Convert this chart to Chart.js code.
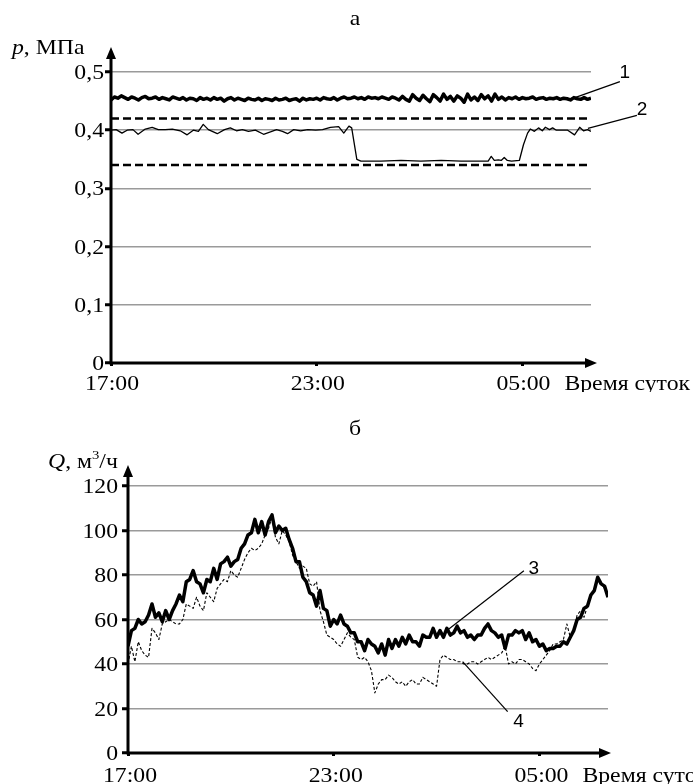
<!DOCTYPE html>
<html>
<head>
<meta charset="utf-8">
<script src="https://cdn.jsdelivr.net/npm/chart.js@4.4.0/dist/chart.umd.min.js"></script>
<style>
  html, body { margin: 0; padding: 0; background: #fff; }
  #wrap { position: relative; width: 693px; height: 784px; overflow: hidden; }
  canvas { position: absolute; left: 0; }
  #chartP { top: 0; }
  #chartQ { top: 392px; }
</style>
</head>
<body>
<div id="wrap">
  <canvas id="chartP" width="693" height="392"></canvas>
  <canvas id="chartQ" width="693" height="392"></canvas>
</div>
<script>
// time axis: hours after 17:00
const timeTicks = [0, 6, 12];
const timeLabels = ['17:00', '23:00', '05:00'];
const timeUnit = 'Время суток';
const stepHours = 0.1;

// (а) pressure, MPa
const pressureTicks = [0, 0.1, 0.2, 0.3, 0.4, 0.5];

// curve 1 - sampled every 0.1 h
const pressure1 = [
  0.452, 0.457, 0.455, 0.459, 0.456, 0.453, 0.457, 0.455, 0.452, 0.456,
  0.458, 0.454, 0.455, 0.457, 0.453, 0.456, 0.454, 0.452, 0.457, 0.455,
  0.453, 0.456, 0.452, 0.455, 0.454, 0.451, 0.456, 0.453, 0.455, 0.452,
  0.456, 0.453, 0.455, 0.450, 0.454, 0.456, 0.452, 0.455, 0.453, 0.451,
  0.455, 0.453, 0.452, 0.455, 0.451, 0.454, 0.453, 0.451, 0.455, 0.452,
  0.453, 0.455, 0.451, 0.453, 0.454, 0.450, 0.455, 0.452, 0.454, 0.453,
  0.455, 0.452, 0.456, 0.454, 0.453, 0.456, 0.452, 0.455, 0.457, 0.454,
  0.455, 0.457, 0.454, 0.456, 0.453, 0.457, 0.455, 0.456, 0.454, 0.457,
  0.455, 0.453, 0.457, 0.455, 0.452, 0.458, 0.453, 0.450, 0.461, 0.455,
  0.451, 0.460, 0.454, 0.449, 0.461, 0.456, 0.450, 0.462, 0.453, 0.458,
  0.450, 0.459, 0.455, 0.448, 0.462, 0.452, 0.457, 0.451, 0.461, 0.454,
  0.459, 0.450, 0.462, 0.453, 0.457, 0.452, 0.456, 0.454, 0.457, 0.453,
  0.456, 0.454, 0.455, 0.457, 0.453, 0.455, 0.456, 0.453, 0.455, 0.454,
  0.456, 0.453, 0.455, 0.454, 0.452, 0.456, 0.454, 0.453, 0.456, 0.453,
  0.455
];

// curve 2
const pressure2Hours = [
  0, 0.15, 0.32, 0.47, 0.64, 0.79, 1.0, 1.2, 1.38, 1.58, 1.79,
  2.02, 2.22, 2.4, 2.55, 2.69, 2.84, 3.1, 3.31, 3.48, 3.66, 3.83,
  4.01, 4.21, 4.45, 4.65, 4.83, 5.0, 5.15, 5.33, 5.53, 5.74, 5.97,
  6.17, 6.4, 6.64, 6.79, 6.94, 7.02, 7.17, 7.29, 7.87, 8.46, 9.04, 9.63,
  10.21, 10.8, 11.0, 11.09, 11.18, 11.3, 11.38, 11.47, 11.56, 11.68, 11.91,
  12.03, 12.15, 12.23, 12.35, 12.47, 12.58, 12.67, 12.79, 12.88, 12.99,
  13.32, 13.52, 13.67, 13.78, 13.9, 14.0
];
const pressure2 = [
  0.400, 0.401, 0.395, 0.400, 0.401, 0.393, 0.402, 0.405, 0.401, 0.401, 0.402,
  0.399, 0.392, 0.400, 0.398, 0.410, 0.401, 0.394, 0.401, 0.404, 0.399, 0.401,
  0.398, 0.400, 0.393, 0.397, 0.401, 0.398, 0.394, 0.401, 0.399, 0.401, 0.400,
  0.401, 0.405, 0.406, 0.395, 0.407, 0.404, 0.350, 0.347, 0.347, 0.348, 0.347, 0.348,
  0.347, 0.347, 0.347, 0.355, 0.348, 0.349, 0.348, 0.353, 0.348, 0.347, 0.348,
  0.375, 0.395, 0.402, 0.398, 0.404, 0.399, 0.405, 0.401, 0.404, 0.400,
  0.400, 0.392, 0.405, 0.399, 0.401, 0.398
];

// dashed limits
const limitHours = [0, 14];
const limitUpper = [0.42, 0.42];
const limitLower = [0.34, 0.34];

// (б) flow, m3/h
const flowTicks = [0, 20, 40, 60, 80, 100, 120];

// curve 3 - sampled every 0.1 h
const flow3 = [
  48, 55, 56, 60, 58, 59, 62, 67, 61, 63,
  59, 64, 60, 64, 67, 71, 68, 77, 78, 82,
  77, 76, 72, 78, 77, 83, 78, 85, 86, 88,
  84, 86, 87, 92, 94, 98, 99, 105, 99, 104,
  98, 104, 107, 99, 102, 100, 101, 96, 92, 86,
  86, 79, 77, 72, 71, 66, 73, 65, 64, 57,
  60, 58, 62, 58, 57, 54, 54, 50, 50, 46,
  51, 49, 48, 45, 49, 44, 51, 47, 51, 48,
  52, 49, 53, 50, 50, 48, 53, 52, 52, 56,
  52, 55, 52, 56, 53, 54, 57, 54, 55, 52,
  53, 51, 53, 53, 56, 58, 55, 54, 52, 53,
  47, 53, 53, 55, 54, 55, 51, 54, 50, 51,
  48, 49, 46, 47, 47, 48, 48, 50, 49, 52,
  55, 60, 61, 65, 66, 71, 73, 79, 76, 75,
  70
];

// curve 4 - sampled every 0.1 h
const flow4 = [
  40, 48, 41, 50, 46, 44, 43, 56, 54, 51,
  58, 59, 60, 59, 58, 58, 60, 67, 66, 65,
  70, 66, 64, 72, 70, 68, 74, 76, 78, 77,
  82, 80, 79, 83, 87, 90, 92, 91, 92, 94,
  98, 101, 106, 97, 94, 100, 98, 95, 89, 86,
  83, 84, 83, 76, 75, 77, 64, 59, 53, 52,
  51, 49, 48, 51, 54, 52, 51, 43, 42, 43,
  41, 37, 27, 31, 33, 33, 35, 34, 32, 31,
  32, 30, 32, 33, 31, 31, 34, 33, 32, 31,
  30, 42, 44, 43, 42, 42, 41, 41, 40, 40,
  41, 41, 40, 41, 42, 43, 42, 43, 44, 45,
  48, 40, 41, 40, 42, 42, 41, 40, 38, 37,
  40, 42, 44, 46, 49, 49, 50, 51, 58, 52,
  55, 62, 64, 61, 66, 70, 73, 78, 76, 74,
  72
];

const STRETCH = 1.13;
const SERIF = '"Liberation Serif", "Times New Roman", serif';
const FONT = '21px ' + SERIF;

const toSteps = vals => vals.map((v, i) => ({ x: i * stepHours, y: v }));
const toPairs = (hs, vals) => hs.map((h, i) => ({ x: h, y: vals[i] }));

function txt(ctx, text, x, y, align, font, stretch) {
  ctx.save();
  ctx.font = font;
  ctx.translate(x, y);
  ctx.scale(stretch || STRETCH, 1);
  ctx.textAlign = align;
  ctx.textBaseline = 'alphabetic';
  ctx.fillText(text, 0, 0);
  ctx.restore();
}

// draw a title made of several font runs
function parts(ctx, list, x, y) {
  list.forEach(p => {
    ctx.save();
    ctx.font = p.font;
    const w = ctx.measureText(p.t).width * STRETCH;
    ctx.restore();
    txt(ctx, p.t, x, y + (p.dy || 0), 'left', p.font);
    x += w;
  });
}

function decor(cfg) {
  return {
    id: 'decor',
    afterDraw(chart) {
      const ctx = chart.ctx, a = chart.chartArea;
      const xs = chart.scales.x, ys = chart.scales.y;
      ctx.save();
      ctx.fillStyle = '#000';
      ctx.strokeStyle = '#000';

      // axes with arrows
      const ty = a.top - cfg.arrowUp;
      const tx = a.right + cfg.arrowRight;
      ctx.lineWidth = 3;
      ctx.beginPath();
      ctx.moveTo(a.left, a.bottom + 1.5);
      ctx.lineTo(a.left, ty + 10);
      ctx.moveTo(a.left - 1.5, a.bottom);
      ctx.lineTo(tx - 10, a.bottom);
      ctx.stroke();
      ctx.beginPath();
      ctx.moveTo(a.left, ty);
      ctx.lineTo(a.left - 5, ty + 12);
      ctx.lineTo(a.left + 5, ty + 12);
      ctx.closePath();
      ctx.moveTo(tx, a.bottom);
      ctx.lineTo(tx - 12, a.bottom - 5);
      ctx.lineTo(tx - 12, a.bottom + 5);
      ctx.closePath();
      ctx.fill();

      // tick labels
      cfg.yTicks.forEach(v => {
        txt(ctx, cfg.yFmt(v), a.left - cfg.yGap, ys.getPixelForValue(v) + 7, 'right', FONT);
      });
      timeTicks.forEach((v, i) => {
        txt(ctx, timeLabels[i], xs.getPixelForValue(v) + cfg.xShift, cfg.xBase, 'center', FONT);
      });
      const last = timeTicks[timeTicks.length - 1];
      txt(ctx, timeUnit, xs.getPixelForValue(last) + cfg.xShift + 41, cfg.xBase, 'left', FONT);

      // panel letter and axis title
      txt(ctx, cfg.letter, cfg.letterX, cfg.letterY, 'center', FONT);
      parts(ctx, cfg.title, cfg.titleX, cfg.titleY);

      // numbered callouts
      ctx.lineWidth = 1.2;
      cfg.callouts.forEach(c => {
        const px = xs.getPixelForValue(c.x), py = ys.getPixelForValue(c.y);
        ctx.beginPath();
        ctx.moveTo(px, py);
        ctx.lineTo(px + c.dx, py + c.dy);
        ctx.stroke();
        txt(ctx, c.text, px + c.lx, py + c.ly + 7, 'center', '19px "Liberation Sans", Arial, sans-serif', 1);
      });
      ctx.restore();
    }
  };
}

function makeChart(id, datasets, yTicks, area, cfg) {
  const canvas = document.getElementById(id);
  return new Chart(canvas.getContext('2d'), {
    type: 'line',
    data: {
      datasets: datasets.map(d => Object.assign({
        borderColor: '#000',
        pointRadius: 0,
        fill: false,
        tension: 0,
        borderJoinStyle: 'round'
      }, d))
    },
    options: {
      responsive: false,
      animation: false,
      devicePixelRatio: 1,
      events: [],
      layout: {
        padding: { left: 0, top: area.top, right: canvas.width - area.right, bottom: 0 }
      },
      scales: {
        x: {
          type: 'linear',
          min: 0,
          max: 14,
          afterBuildTicks: s => { s.ticks = timeTicks.map(v => ({ value: v })); },
          afterFit: s => { s.height = canvas.height - area.bottom; },
          ticks: { display: false },
          grid: {
            display: true,
            drawOnChartArea: false,
            drawTicks: true,
            tickLength: 3,
            tickColor: '#000',
            tickWidth: 3
          },
          border: { display: false }
        },
        y: {
          min: yTicks[0],
          max: yTicks[yTicks.length - 1],
          afterBuildTicks: s => { s.ticks = yTicks.map(v => ({ value: v })); },
          afterFit: s => { s.width = area.left; },
          ticks: { display: false },
          grid: {
            color: '#9a9a9a',
            lineWidth: 1.5,
            drawTicks: true,
            tickLength: 6,
            tickColor: '#000',
            tickWidth: 3
          },
          border: { display: false }
        }
      },
      plugins: {
        legend: { display: false },
        tooltip: { enabled: false }
      }
    },
    plugins: [decor(cfg)]
  });
}

makeChart('chartP', [
  { data: toSteps(pressure1), borderWidth: 3.5 },
  { data: toPairs(pressure2Hours, pressure2), borderWidth: 1.3 },
  { data: toPairs(limitHours, limitUpper), borderWidth: 2.5, borderDash: [8, 4] },
  { data: toPairs(limitHours, limitLower), borderWidth: 2.5, borderDash: [8, 4] }
], pressureTicks, { left: 111, top: 72, right: 591, bottom: 363 }, {
  yTicks: pressureTicks,
  yFmt: v => v === 0 ? '0' : v.toFixed(1).replace('.', ','),
  yGap: 7,
  xShift: 1,
  xBase: 390,
  arrowUp: 25,
  arrowRight: 6,
  letter: 'а', letterX: 355, letterY: 25,
  title: [
    { t: 'p', font: 'italic 21px ' + SERIF },
    { t: ', МПа', font: FONT }
  ],
  titleX: 12, titleY: 54,
  callouts: [
    { x: 13.53, y: 0.456, dx: 45, dy: -16, lx: 50, ly: -27, text: '1' },
    { x: 13.91, y: 0.403, dx: 49, dy: -13, lx: 54, ly: -20, text: '2' }
  ]
});

makeChart('chartQ', [
  { data: toSteps(flow3), borderWidth: 3.5 },
  { data: toSteps(flow4), borderWidth: 1.1, borderDash: [3, 2] }
], flowTicks, { left: 128, top: 94, right: 608, bottom: 361 }, {
  yTicks: flowTicks,
  yFmt: v => String(v),
  yGap: 10,
  xShift: 2,
  xBase: 390,
  arrowUp: 21,
  arrowRight: 3,
  letter: 'б', letterX: 355, letterY: 43,
  title: [
    { t: 'Q', font: 'italic 21px ' + SERIF },
    { t: ', м', font: FONT },
    { t: '3', font: '13px ' + SERIF, dy: -9 },
    { t: '/ч', font: FONT }
  ],
  titleX: 48, titleY: 76,
  callouts: [
    { x: 9.33, y: 55.4, dx: 76, dy: -59, lx: 86, ly: -63, text: '3' },
    { x: 9.76, y: 41.1, dx: 45, dy: 50, lx: 56, ly: 58, text: '4' }
  ]
});
</script>
</body>
</html>
